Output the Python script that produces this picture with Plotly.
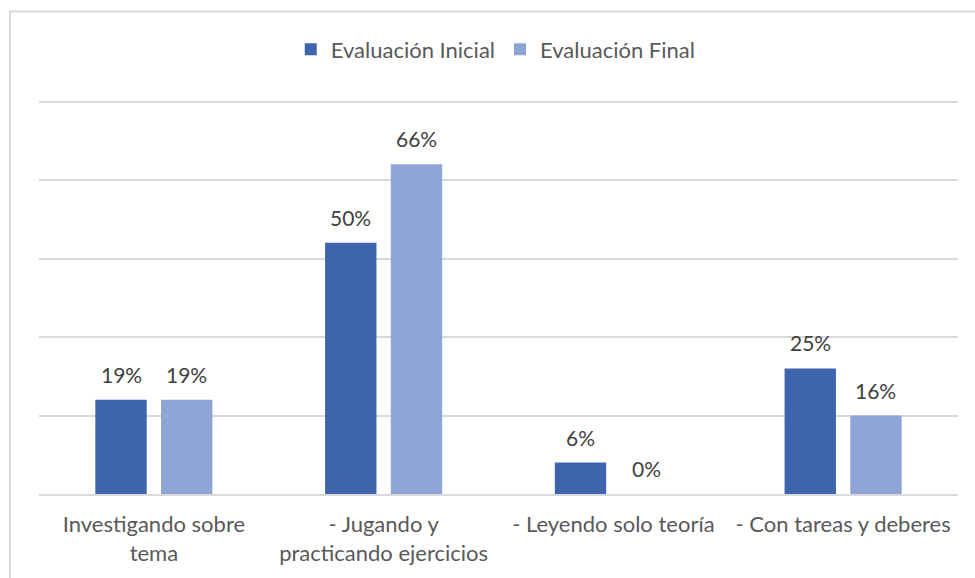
import plotly.graph_objects as go

categories = ["Investigando sobre<br>tema", "- Jugando y<br>practicando ejercicios",
              "- Leyendo solo teoría", "- Con tareas y deberes"]
series_names = ["Evaluación Inicial", "Evaluación Final"]
# counts of students (out of total); labels show percentages
total = 32
inicial = [6, 16, 2, 8]
final = [6, 21, 0, 5]
colors = ["#3e64ad", "#8fa5d5"]

FONT = "Lato"
fig = go.Figure()
for name, vals, col in zip(series_names, [inicial, final], colors):
    fig.add_trace(go.Bar(x=categories, y=vals, name=name, marker=dict(color=col, line=dict(width=0)),
                         hoverinfo="skip"))

# data labels as annotations
offset = 0.143
annotations = []
for k, vals in enumerate([inicial, final]):
    for i, v in enumerate(vals):
        annotations.append(dict(
            x=i + (-offset if k == 0 else offset), y=v, xref="x", yref="y",
            text=f"{round(100 * v / total)}%", showarrow=False,
            yanchor="bottom", yshift=11,
            font=dict(family=FONT, size=21, color="#404040")))

fig.update_layout(
    width=975, height=578,
    margin=dict(l=39, r=17, t=100, b=82),
    paper_bgcolor="white", plot_bgcolor="white",
    barmode="group", bargap=0.428, bargroupgap=0.218,
    font=dict(family=FONT, size=22, color="#595959"),
    legend=dict(orientation="h", x=0.497, xanchor="center", y=1.128, yanchor="middle",
                font=dict(family=FONT, size=22, color="#595959"),
                itemclick=False, traceorder="normal"),
    xaxis=dict(showgrid=False, ticks="", showline=True, linecolor="#d9d9d9", linewidth=2,
               ticklabelstandoff=10,
               tickfont=dict(family=FONT, size=22, color="#595959")),
    yaxis=dict(range=[0, 25.1], tickvals=[0, 5, 10, 15, 20, 25], showticklabels=False, showgrid=True,
               gridcolor="#d9d9d9", gridwidth=2, zeroline=False, showline=False, ticks=""),
    annotations=annotations,
    shapes=[dict(type="rect", xref="paper", yref="paper",
                 x0=(10 - 39) / 919, x1=(990 - 39) / 919,
                 y0=(496 - 600) / 396, y1=(496 - 11) / 396,
                 line=dict(color="#d9d9d9", width=2), layer="below")],
)
fig.write_html("out.html")
